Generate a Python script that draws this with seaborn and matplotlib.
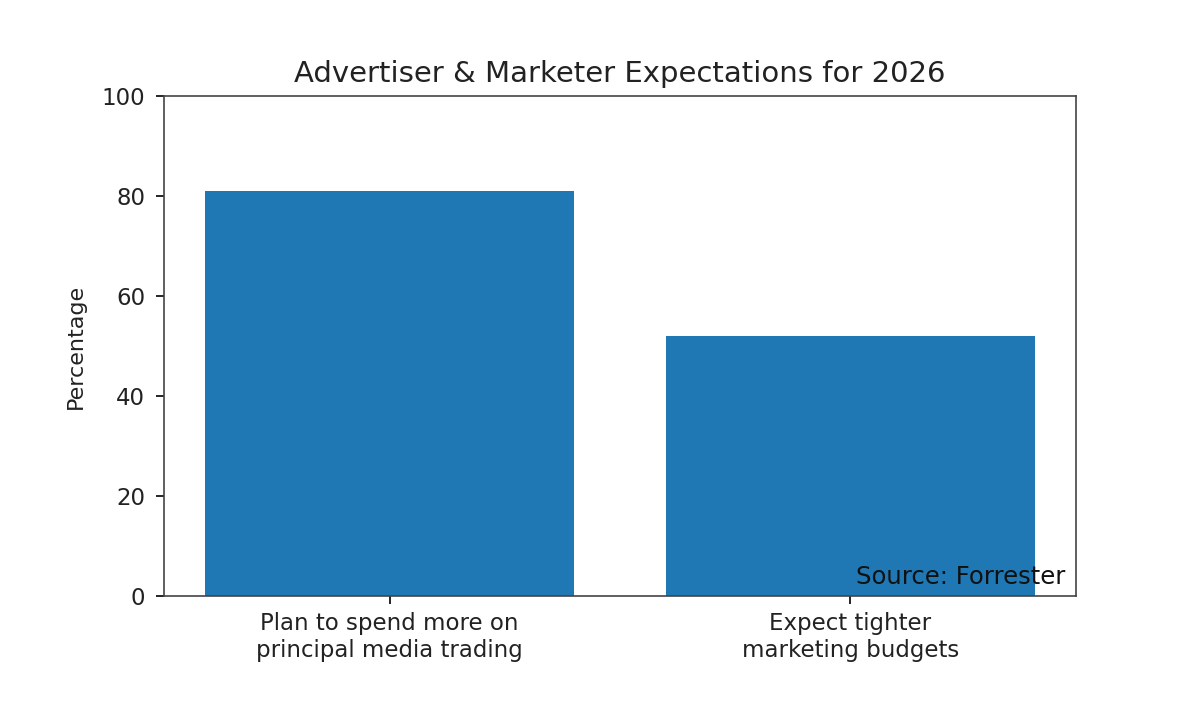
import matplotlib
matplotlib.use("Agg")
import matplotlib.pyplot as plt
import seaborn as sns
import pandas as pd

categories = ["Plan to spend more on\nprincipal media trading",
              "Expect tighter\nmarketing budgets"]
values = [81, 52]
title = "Advertiser & Marketer Expectations for 2026"
ylabel = "Percentage"
source = "Source: Forrester"

df = pd.DataFrame({"category": categories, "value": values})

plt.rcParams['font.family'] = ['DejaVu Sans']
fig = plt.figure(figsize=(11.98, 7.18), dpi=100)
ax = fig.add_axes([164/1198, 1 - 596/718, (1076-164)/1198, (596-96)/718])

sns.barplot(data=df, x="category", y="value", color="#1f77b4",
            saturation=1, width=0.8, ax=ax, errorbar=None)

ax.set_xlim(-0.49, 1.49)
ax.set_ylim(0, 100)
ax.set_yticks([0, 20, 40, 60, 80, 100])
ax.set_xlabel("")
ax.set_ylabel(ylabel, fontsize=16, labelpad=11, color='#222222')
ax.set_title(title, fontsize=21, pad=10, color='#222222')
ax.tick_params(axis='both', labelsize=16.5, length=5.5, width=1.2,
               direction='out', labelcolor='#222222')
ax.tick_params(axis='y', pad=8)
ax.tick_params(axis='x', pad=6)
for s in ax.spines.values():
    s.set_linewidth(1.2)
    s.set_color('#444444')
ax.text(0.988, 0.015, source, transform=ax.transAxes, ha='right', va='bottom',
        fontsize=17.5, color='#111111')

fig.savefig("out.png", dpi=100)
